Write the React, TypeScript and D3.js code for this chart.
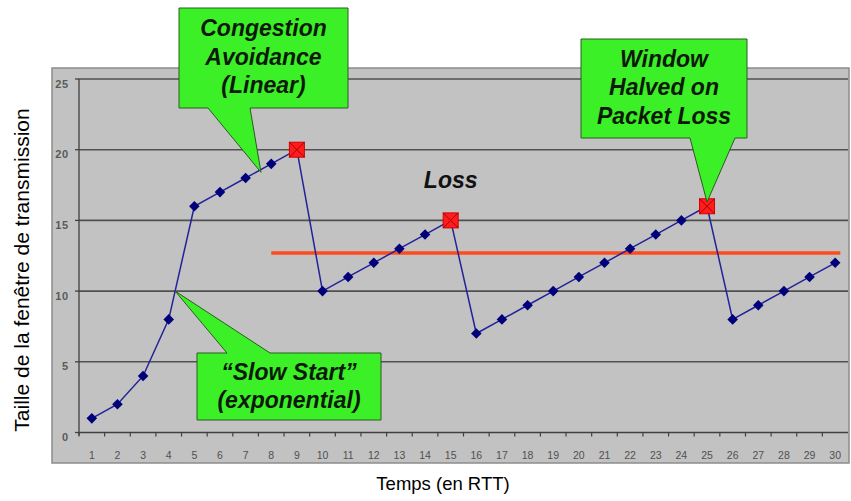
import React from "react";
import * as d3 from "d3";

const rtt: number[] = Array.from({ length: 30 }, (_, i) => i + 1);
const windowSize: number[] = [1, 2, 4, 8, 16, 17, 18, 19, 20, 10, 11, 12, 13, 14, 15, 7, 8, 9, 10, 11, 12, 13, 14, 15, 16, 8, 9, 10, 11, 12];
const lossRtt: number[] = [9, 15, 25];
const yTicks: number[] = [0, 5, 10, 15, 20, 25];
const thresholdValue = 12.7;
const thresholdFrom = 8;
const thresholdTo = 30.2;
const lossLabel = { x: 15, y: 17.3, text: "Loss" };
const callouts = [
  { lines: ["Congestion", "Avoidance", "(Linear)"], tipX: 7.6, tipY: 18.4 },
  { lines: ["Window", "Halved on", "Packet Loss"], tipX: 25, tipY: 16.3 },
  { lines: ["\u201CSlow Start\u201D", "(exponential)"], tipX: 4.25, tipY: 10 },
];
const xTitle = "Temps (en RTT)";
const yTitle = "Taille de la fenêtre de transmission";

// layout (pixels)
const W = 851, H = 501;
const plot = { left: 79, right: 848, top: 79, bottom: 432.5 };
const boxes = [
  { x: 179, y: 8, w: 169, h: 100, baseL: 208, baseR: 250, side: "bottom", firstBaseline: 36, lh: 28.5 },
  { x: 581, y: 39, w: 166, h: 99, baseL: 690, baseR: 735, side: "bottom", firstBaseline: 66.5, lh: 28.7 },
  { x: 197, y: 353, w: 184, h: 67, baseL: 227, baseR: 270, side: "top", firstBaseline: 380, lh: 27.5 },
];

export default function App() {
  const band = d3.scaleBand<number>().domain(rtt).range([plot.left, plot.right]).paddingInner(0).paddingOuter(0);
  const xLin = d3.scaleLinear().domain([0.5, 30.5]).range([plot.left, plot.right]);
  const y = d3.scaleLinear().domain([0, 25]).range([plot.bottom, plot.top]);
  const cx = (d: number) => (band(d) as number) + band.bandwidth() / 2;

  const pts: [number, number][] = rtt.map((r, i) => [cx(r), y(windowSize[i])]);
  const linePath = d3.line()(pts) as string;
  const diamond = d3.symbol().type(d3.symbolSquare).size(56)() as string;

  const font = "'Liberation Sans', Arial, sans-serif";
  const green = "#3cf028";

  const calloutPath = (b: typeof boxes[number], tx: number, ty: number) => {
    const x0 = b.x, x1 = b.x + b.w, y0 = b.y, y1 = b.y + b.h;
    if (b.side === "bottom") {
      return `M${x0},${y0}H${x1}V${y1}H${b.baseR}L${tx},${ty}L${b.baseL},${y1}H${x0}Z`;
    }
    return `M${x0},${y0}H${b.baseL}L${tx},${ty}L${b.baseR},${y0}H${x1}V${y1}H${x0}Z`;
  };

  return (
    <svg width={W} height={H} style={{ position: "absolute", left: 0, top: 0, background: "#fff" }}>
      {/* panel */}
      <rect x={52} y={68} width={797} height={395} fill="#c2c2c2" stroke="#8c8c8c" strokeWidth={1.5} />
      {/* grid */}
      {yTicks.filter((t) => t > 0).map((t) => (
        <line key={"g" + t} x1={plot.left} x2={plot.right} y1={y(t)} y2={y(t)} stroke="#505050" strokeWidth={1.6} />
      ))}
      {/* y axis */}
      <line x1={plot.left} x2={plot.left} y1={plot.top} y2={plot.bottom + 3} stroke="#404040" strokeWidth={1.3} />
      {yTicks.map((t) => (
        <g key={"yt" + t}>
          <line x1={plot.left - 4} x2={plot.left} y1={y(t)} y2={y(t)} stroke="#404040" strokeWidth={1.3} />
          <text x={69} y={y(t) + 8.5} textAnchor="end" fontFamily={font} fontSize={11} fontWeight="bold" fill="#5a5a5a" letterSpacing={0.8}>{t}</text>
        </g>
      ))}
      {/* x axis */}
      <line x1={plot.left} x2={plot.right} y1={plot.bottom} y2={plot.bottom} stroke="#404040" strokeWidth={1.3} />
      {rtt.map((r) => (
        <line key={"xt" + r} x1={(band(r) as number)} x2={(band(r) as number)} y1={plot.bottom} y2={plot.bottom + 4} stroke="#404040" strokeWidth={1.2} />
      ))}
      {rtt.map((r) => (
        <text key={"xl" + r} x={cx(r)} y={459} textAnchor="middle" fontFamily={font} fontSize={10.5} fill="#505050">{r}</text>
      ))}
      {/* threshold */}
      <line x1={xLin(thresholdFrom)} x2={xLin(thresholdTo)} y1={y(thresholdValue)} y2={y(thresholdValue)} stroke="#ff4a1c" strokeWidth={3.5} />
      {/* series */}
      <path d={linePath} fill="none" stroke="#22229a" strokeWidth={1.5} />
      {pts.map(([px, py], i) =>
        lossRtt.includes(rtt[i]) ? null : (
          <path key={"d" + i} d={diamond} transform={`translate(${px},${py}) rotate(45)`} fill="#00007a" />
        )
      )}
      {lossRtt.map((r) => {
        const v = windowSize[rtt.indexOf(r)];
        const px = cx(r), py = y(v), s = 7.5;
        return (
          <g key={"l" + r}>
            <rect x={px - s} y={py - s} width={2 * s} height={2 * s} fill="#ff1c1c" stroke="#d00000" strokeWidth={1} />
            <line x1={px - s} y1={py - s} x2={px + s} y2={py + s} stroke="#a80000" strokeWidth={1} />
            <line x1={px + s} y1={py - s} x2={px - s} y2={py + s} stroke="#a80000" strokeWidth={1} />
          </g>
        );
      })}
      {/* Loss label */}
      <text x={xLin(lossLabel.x)} y={y(lossLabel.y)} textAnchor="middle" fontFamily={font} fontSize={23} fontWeight="bold" fontStyle="italic" fill="#111">{lossLabel.text}</text>
      {/* callouts */}
      {callouts.map((c, i) => {
        const b = boxes[i];
        const tx = xLin(c.tipX), ty = y(c.tipY);
        return (
          <g key={"c" + i}>
            <path d={calloutPath(b, tx, ty)} fill={green} stroke="#2d5a22" strokeWidth={1} />
            {c.lines.map((ln, j) => (
              <text key={j} x={b.x + b.w / 2} y={b.firstBaseline + j * b.lh} textAnchor="middle" fontFamily={font} fontSize={23} fontWeight="bold" fontStyle="italic" fill="#0d1a0a">{ln}</text>
            ))}
          </g>
        );
      })}
      {/* axis titles */}
      <text x={443} y={490} textAnchor="middle" fontFamily={font} fontSize={18.5} fill="#000">{xTitle}</text>
      <text transform={`translate(29,270) rotate(-90)`} textAnchor="middle" fontFamily={font} fontSize={21} fill="#000">{yTitle}</text>
    </svg>
  );
}
